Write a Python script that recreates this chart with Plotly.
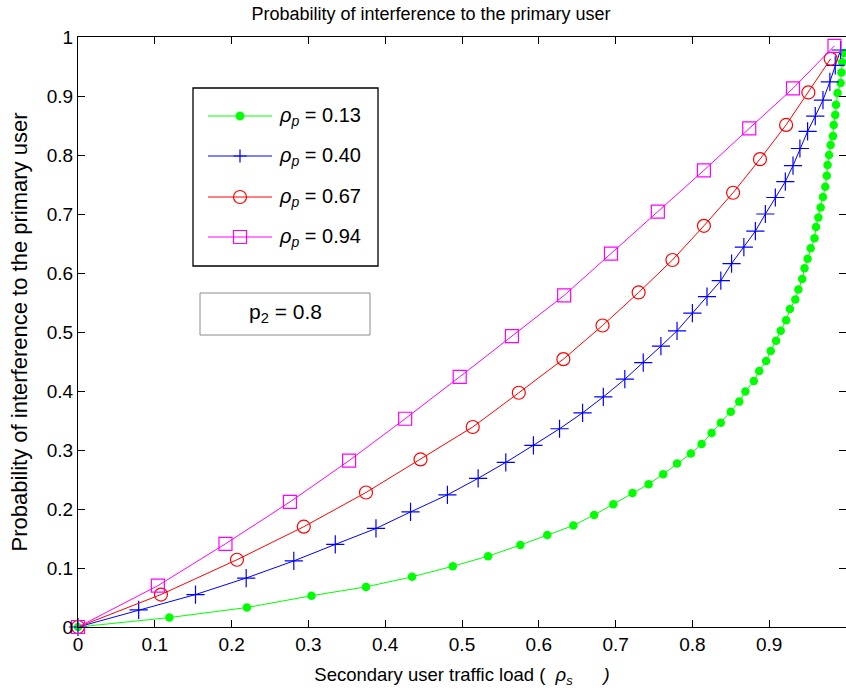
import plotly.graph_objects as go

# ---- data ----
green_x = [0, 0.119, 0.220, 0.304, 0.375, 0.435, 0.488, 0.534, 0.576, 0.611, 0.645, 0.672, 0.697,
           0.722, 0.743, 0.762, 0.780, 0.798, 0.812, 0.825, 0.837, 0.850, 0.861, 0.869, 0.880,
           0.887, 0.896, 0.902, 0.909, 0.915, 0.922, 0.927, 0.934, 0.938, 0.943, 0.946, 0.950,
           0.954, 0.959, 0.961, 0.964, 0.967, 0.970, 0.973, 0.975, 0.976, 0.978, 0.980, 0.983,
           0.984, 0.986, 0.987, 0.989, 0.993, 0.994, 0.995, 0.997]
green_y = [0, 0.016, 0.033, 0.053, 0.068, 0.085, 0.103, 0.120, 0.139, 0.156, 0.172, 0.190, 0.208,
           0.227, 0.242, 0.259, 0.277, 0.294, 0.310, 0.329, 0.346, 0.365, 0.382, 0.399, 0.417,
           0.434, 0.451, 0.468, 0.485, 0.502, 0.520, 0.539, 0.555, 0.572, 0.590, 0.608, 0.624,
           0.642, 0.659, 0.678, 0.694, 0.711, 0.729, 0.746, 0.765, 0.783, 0.800, 0.817, 0.832,
           0.851, 0.868, 0.885, 0.905, 0.922, 0.940, 0.957, 0.973]

blue_x = [0, 0.079, 0.153, 0.219, 0.281, 0.335, 0.388, 0.433, 0.481, 0.521, 0.557, 0.593, 0.627,
          0.657, 0.684, 0.712, 0.736, 0.759, 0.780, 0.800, 0.819, 0.837, 0.851, 0.867, 0.882,
          0.895, 0.908, 0.921, 0.931, 0.940, 0.950, 0.960, 0.970, 0.979, 0.986, 0.993]
blue_y = [0, 0.029, 0.055, 0.083, 0.112, 0.140, 0.167, 0.195, 0.224, 0.252, 0.279, 0.308, 0.336,
          0.363, 0.390, 0.420, 0.448, 0.476, 0.502, 0.532, 0.560, 0.587, 0.616, 0.644, 0.671,
          0.700, 0.728, 0.755, 0.782, 0.811, 0.840, 0.866, 0.893, 0.924, 0.952, 0.978]

red_x = [0, 0.108, 0.207, 0.294, 0.375, 0.446, 0.514, 0.574, 0.632, 0.683, 0.730, 0.774, 0.815,
         0.853, 0.888, 0.922, 0.951, 0.980]
red_y = [0, 0.055, 0.114, 0.170, 0.228, 0.284, 0.339, 0.397, 0.454, 0.511, 0.567, 0.622, 0.680,
         0.736, 0.793, 0.851, 0.906, 0.963]

mag_x = [0, 0.104, 0.192, 0.276, 0.353, 0.426, 0.497, 0.565, 0.633, 0.694, 0.755, 0.815, 0.874,
         0.931, 0.985]
mag_y = [0, 0.070, 0.141, 0.212, 0.282, 0.353, 0.424, 0.493, 0.562, 0.633, 0.704, 0.774, 0.845,
         0.913, 0.985]

legend_labels = ["0.13", "0.40", "0.67", "0.94"]
tick_vals = [0, 0.1, 0.2, 0.3, 0.4, 0.5, 0.6, 0.7, 0.8, 0.9, 1]
tick_text = ["0", "0.1", "0.2", "0.3", "0.4", "0.5", "0.6", "0.7", "0.8", "0.9", "1"]

FONT = "Liberation Sans, Arial, Helvetica, sans-serif"
W, H = 846, 694
ML, MR, MT, MB = 78, 0, 37, 67
PW, PH = W - ML - MR, H - MT - MB


def px(xp):  # page pixel -> paper x
    return (xp - ML) / PW


def py(yp):  # page pixel -> paper y
    return (H - MB - yp) / PH


colors = ["#00ff00", "#0000ff", "#ff0000", "#ff00ff"]
series = [
    (green_x, green_y, dict(symbol="circle", size=8.5, color=colors[0], line=dict(width=0))),
    (blue_x, blue_y, dict(symbol="cross-thin-open", size=13, color=colors[1],
                          line=dict(width=1.2, color=colors[1]))),
    (red_x, red_y, dict(symbol="circle-open", size=13, color=colors[2],
                        line=dict(width=1.2, color=colors[2]))),
    (mag_x, mag_y, dict(symbol="square-open", size=13, color=colors[3],
                        line=dict(width=1.2, color=colors[3]))),
]

fig = go.Figure()
for i, (xs, ys, mk) in enumerate(series):
    fig.add_trace(go.Scatter(
        x=xs, y=ys, mode="lines+markers",
        line=dict(color=colors[i], width=1),
        marker=mk,
        name="ρp = " + legend_labels[i],
        showlegend=False,
        cliponaxis=False,
    ))

axis_common = dict(
    range=[0, 1], tickvals=tick_vals, ticktext=tick_text,
    ticks="inside", ticklen=7, tickcolor="black", tickwidth=1,
    showline=True, linecolor="black", linewidth=1, mirror="ticks",
    showgrid=False, zeroline=False,
    tickfont=dict(family=FONT, size=19, color="black"),
)

fig.update_layout(
    width=W, height=H,
    margin=dict(l=ML, r=MR, t=MT, b=MB),
    paper_bgcolor="white", plot_bgcolor="white",
    font=dict(family=FONT, color="black"),
    title=dict(text="Probability of interference to the primary user",
               xref="container", x=431 / W, xanchor="center",
               yref="container", y=1 - 14 / H, yanchor="middle",
               font=dict(family=FONT, size=18, color="black")),
    xaxis=dict(axis_common,
               title=dict(text="Secondary user traffic load (&nbsp;&nbsp;<i>ρ</i><sub><i>s</i></sub>"
                               "&nbsp;&nbsp;&nbsp;&nbsp;&nbsp;&nbsp;<i>)</i>",
                          font=dict(family=FONT, size=18.5, color="black"), standoff=14)),
    yaxis=dict(axis_common,
               title=dict(text="Probability of interference to the primary user",
                          font=dict(family=FONT, size=22, color="black"), standoff=13)),
    showlegend=False,
)

# ---- legend box (drawn like the reference's boxed legend) ----
shapes = [dict(type="rect", xref="paper", yref="paper",
               x0=px(193), x1=px(378), y0=py(266), y1=py(88),
               line=dict(color="black", width=1.3), fillcolor="white", layer="above")]
row_y = [116, 156, 197, 237]
for i in range(4):
    yy = py(row_y[i])
    shapes.append(dict(type="line", xref="paper", yref="paper",
                       x0=px(208), x1=px(272), y0=yy, y1=yy,
                       line=dict(color=colors[i], width=1)))
    common = dict(xref="paper", yref="paper", xsizemode="pixel", ysizemode="pixel",
                  xanchor=px(240), yanchor=yy)
    if i == 0:
        shapes.append(dict(type="circle", x0=-4.2, x1=4.2, y0=-4.2, y1=4.2,
                           fillcolor=colors[0], line=dict(color=colors[0], width=0.5), **common))
    elif i == 1:
        shapes.append(dict(type="path", path="M-6.5,0H6.5M0,-6.5V6.5",
                           line=dict(color=colors[1], width=1.2), **common))
    elif i == 2:
        shapes.append(dict(type="circle", x0=-6.5, x1=6.5, y0=-6.5, y1=6.5,
                           line=dict(color=colors[2], width=1.2), **common))
    else:
        shapes.append(dict(type="rect", x0=-6.5, x1=6.5, y0=-6.5, y1=6.5,
                           line=dict(color=colors[3], width=1.2), **common))
    fig.add_annotation(xref="paper", yref="paper", x=px(277), y=yy,
                       xanchor="left", yanchor="middle", showarrow=False,
                       text="<i>ρ</i><sub><i>p</i></sub> = " + legend_labels[i],
                       font=dict(family=FONT, size=20, color="black"))

# ---- p2 text box ----
shapes.append(dict(type="rect", xref="paper", yref="paper",
                   x0=px(200), x1=px(370), y0=py(335), y1=py(293),
                   line=dict(color="#8c8c8c", width=1), fillcolor="white", layer="above"))
fig.add_annotation(xref="paper", yref="paper", x=px(285), y=py(313),
                   xanchor="center", yanchor="middle", showarrow=False,
                   text="p<sub>2</sub> = 0.8",
                   font=dict(family=FONT, size=21, color="black"))

fig.update_layout(shapes=shapes)
fig.write_html("out.html")
